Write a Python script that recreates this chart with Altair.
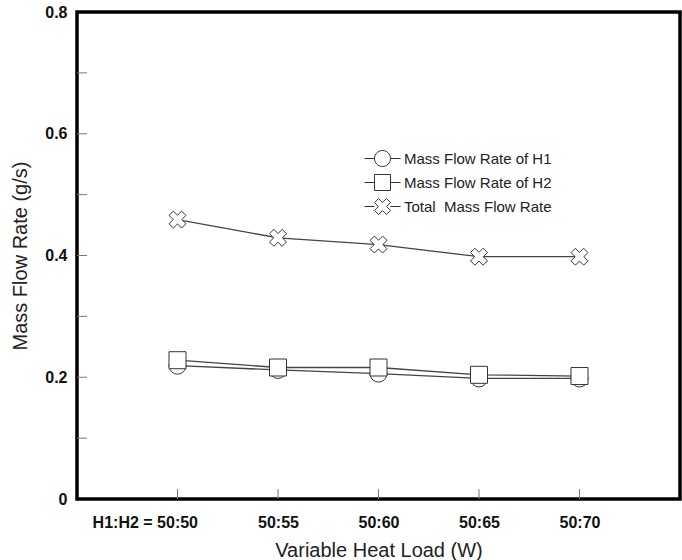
import math

import altair as alt
import pandas as pd

# Heat-load split on the x axis (one category per position)
heat_loads = ["H1:H2 = 50:50", "50:55", "50:60", "50:65", "50:70"]

# Measured mass flow rates (g/s)
h1_rate = [0.219, 0.212, 0.206, 0.198, 0.198]
h2_rate = [0.228, 0.216, 0.216, 0.204, 0.202]
total_rate = [0.459, 0.429, 0.418, 0.398, 0.398]

series_names = [
    "Mass Flow Rate of H1",
    "Mass Flow Rate of H2",
    "Total\u00a0 Mass Flow Rate",
]

y_tick_values = [0, 0.2, 0.4, 0.6, 0.8]
y_minor_ticks = [0.1, 0.2, 0.3, 0.4, 0.5, 0.6, 0.7]

W, H = 603, 487
FONT = "Liberation Sans"

rows = []
for name, values in zip(series_names, [h1_rate, h2_rate, total_rate]):
    for i, v in enumerate(values):
        rows.append({"idx": i, "load": heat_loads[i], "series": name, "rate": v})
df = pd.DataFrame(rows)

ytick_df = pd.DataFrame({"v": y_minor_ticks})
xtick_df = pd.DataFrame({"idx": list(range(len(heat_loads)))})


def x_outline(scale=1.0, r=1.05, s=0.36):
    """Outline of a thick 'X' (a plus sign turned 45 degrees) as an SVG path."""
    pts = [(-s, -r), (s, -r), (s, -s), (r, -s), (r, s), (s, s),
           (s, r), (-s, r), (-s, s), (-r, s), (-r, -s), (-s, -s)]
    c = math.sqrt(0.5)
    rot = [((x - y) * c * scale, (x + y) * c * scale) for x, y in pts]
    return "M" + "L".join(f"{x:.3f},{y:.3f}" for x, y in rot) + "Z"


# Legend glyphs: marker with a short line stub on either side
m = 0.667
stub_l = f"M-1.5,0H{-m}"
stub_r = f"M{m},0H1.5"
legend_circle = (stub_l + f"M{m},0A{m},{m} 0 1,0 {-m},0A{m},{m} 0 1,0 {m},0Z" + stub_r)
legend_square = (stub_l + f"M{-m},{-m}H{m}V{m}H{-m}Z" + stub_r)
legend_x = stub_l + x_outline(scale=m) + stub_r

label_expr = " : ".join(
    f"datum.value == {i} ? '{t}'" for i, t in enumerate(heat_loads)
) + " : ''"

x_enc = alt.X(
    "idx:Q",
    scale=alt.Scale(domain=[-1, 5], nice=False, zero=False),
    axis=alt.Axis(
        values=list(range(len(heat_loads))),
        labelExpr=label_expr,
        title="Variable Heat Load (W)",
        grid=False, domain=False, ticks=False, tickSize=0,
        labelPadding=15,
        labelAlign={"condition": {"test": "datum.value == 0", "value": "right"}, "value": "center"},
        labelOffset={"condition": {"test": "datum.value == 0", "value": 20}, "value": 0},
        titleX=W / 2, titleY=51, titleBaseline="middle",
    ),
)
y_enc = alt.Y(
    "rate:Q",
    scale=alt.Scale(domain=[0, 0.8], nice=False),
    axis=alt.Axis(
        values=y_tick_values,
        labelExpr="datum.value == 0 ? '0' : format(datum.value, '.1f')",
        title="Mass Flow Rate (g/s)",
        grid=False, domain=False, ticks=False, tickSize=0,
        labelPadding=10,
        titleX=-57, titleY=H / 2, titleBaseline="middle",
    ),
)

lines = alt.Chart(df).mark_line(color="#444", strokeWidth=1.3).encode(
    x=x_enc, y=y_enc, detail="series:N"
)

points = alt.Chart(df).mark_point(
    filled=True, fill="white", stroke="#333", strokeWidth=1, size=289, opacity=1
).encode(
    x="idx:Q",
    y="rate:Q",
    shape=alt.Shape(
        "series:N",
        scale=alt.Scale(domain=series_names, range=["circle", "square", x_outline()]),
        legend=None,
    ),
)

legend_layer = alt.Chart(df).mark_point(opacity=0).encode(
    x="idx:Q",
    y="rate:Q",
    shape=alt.Shape(
        "series:N",
        scale=alt.Scale(domain=series_names, range=[legend_circle, legend_square, legend_x]),
        legend=alt.Legend(
            title=None,
            orient="none",
            legendX=293,
            legendY=134,
            padding=0,
            symbolSize=576,
            symbolOpacity=1,
            symbolFillColor="white",
            symbolStrokeColor="#333",
            symbolStrokeWidth=1,
            labelFont=FONT,
            labelFontSize=15,
            labelColor="#222",
            labelOffset=9,
            rowPadding=1,
        ),
    ),
)

# Inward tick marks along the left and bottom frame
y_ticks = alt.Chart(ytick_df).mark_rule(color="#777", strokeWidth=1).encode(
    y="v:Q", x=alt.value(0), x2=alt.value(10)
)
x_ticks = alt.Chart(xtick_df).mark_rule(color="#777", strokeWidth=1).encode(
    x="idx:Q", y=alt.value(H), y2=alt.value(H - 10)
)

chart = (
    alt.layer(y_ticks, x_ticks, lines, points, legend_layer)
    .resolve_scale(shape="independent")
    .properties(
        width=W,
        height=H,
        autosize=alt.AutoSizeParams(type="none"),
        padding={"left": 77, "top": 12, "right": 2, "bottom": 61},
        background="white",
    )
    .configure_view(stroke="black", strokeWidth=3.5)
    .configure_axis(
        labelFont=FONT, labelFontSize=16, labelFontWeight="bold", labelColor="#111",
        titleFont=FONT, titleFontSize=20, titleFontWeight="normal", titleColor="#222",
    )
)

chart.save("out.html", embed_options={"renderer": "svg", "actions": False})
